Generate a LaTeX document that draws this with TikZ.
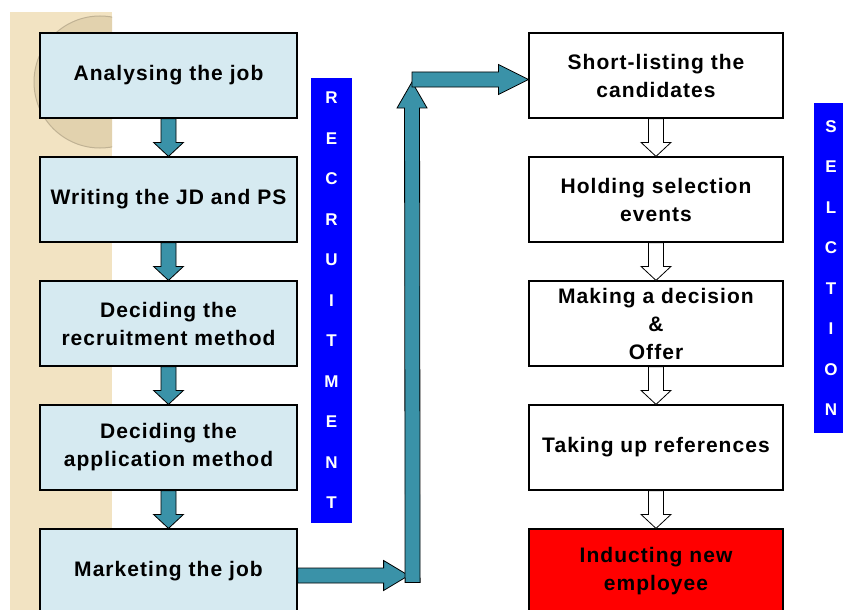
\documentclass[tikz,border=0pt]{standalone}
\usepackage{fontspec}
\setmainfont{Liberation Sans}
\newfontfamily\stepfont{Liberation Sans}[LetterSpace=5]
\usetikzlibrary{positioning,calc}

\definecolor{jobblue}{RGB}{214,234,241}
\definecolor{arrowteal}{RGB}{58,146,168}
\definecolor{stripsand}{RGB}{242,227,194}
\definecolor{circlesand}{RGB}{226,210,174}

\newcommand{\blockarrow}[4][]{%
  \coordinate (tipbase) at ($(#4)!#2!(#3)$);
  \draw[#1] ($(#3)!7.5pt!90:(#4)$) -- ($(tipbase)!7.5pt!-90:(#3)$) -- ($(tipbase)!15pt!-90:(#3)$)
    -- (#4) -- ($(tipbase)!15pt!90:(#3)$) -- ($(tipbase)!7.5pt!90:(#3)$) -- ($(#3)!7.5pt!-90:(#4)$) -- cycle;}

\begin{document}
\begin{tikzpicture}[x=1pt,y=-1pt,node distance=124pt,on grid,
    jobstep/.style={draw,line width=1.2pt,fill=jobblue,minimum width=257pt,minimum height=85pt,
      align=center,font=\stepfont\bfseries\fontsize{21}{28}\selectfont},
    selstep/.style={jobstep,fill=white,minimum width=254pt},
    banner/.style={fill=blue,text=white,inner sep=0pt,align=center,
      font=\bfseries\fontsize{17}{40.5}\selectfont},
    tealarrow/.style={fill=arrowteal,draw=black,line width=0.8pt},
    openarrow/.style={fill=white,draw=black,line width=0.8pt}]
	\clip (0,0) rectangle (843,610);
	\fill[white] (0,0) rectangle (843,610);
	\fill[stripsand] (10,12) rectangle (112,610);
	\begin{scope}
		\clip (10,12) rectangle (112,610);
		\filldraw[fill=circlesand,draw=circlesand!85!black,line width=1pt] (100,82) circle (66);
	\end{scope}

	\node[jobstep] (a1) at (168.5,75.5) {Analysing the job};
	\node[jobstep] (a2) [below=of a1] {Writing the JD and PS};
	\node[jobstep] (a3) [below=of a2] {Deciding the\\recruitment method};
	\node[jobstep] (a4) [below=of a3] {Deciding the\\application method};
	\node[jobstep] (a5) [below=of a4] {Marketing the job};

	\node[selstep] (s1) at (656,75.5) {Short-listing the\\candidates};
	\node[selstep] (s2) [below=of s1] {Holding selection\\events};
	\node[selstep] (s3) [below=of s2] {Making a decision\\\&\\Offer};
	\node[selstep] (s4) [below=of s3] {Taking up references};
	\node[selstep,fill=red] (s5) [below=of s4] {Inducting new\\employee};

	\node[banner,minimum width=41pt,minimum height=445pt] (recruit) at (331.5,300.5)
		{R\\E\\C\\R\\U\\I\\T\\M\\E\\N\\T};
	\node[banner,minimum width=34pt,minimum height=330pt] (select) at (831,268)
		{S\\E\\L\\C\\T\\I\\O\\N};

	\foreach \a/\b in {a1/a2,a2/a3,a3/a4,a4/a5}
		\blockarrow[tealarrow]{14pt}{\a.south}{\b.north};
	\foreach \a/\b in {s1/s2,s2/s3,s3/s4,s4/s5}
		\blockarrow[openarrow]{14pt}{\a.south}{\b.north};

	\coordinate (mkout) at ([yshift=-4pt]a5.east);
	\coordinate (turnlow) at ($(mkout)+(111,0)$);
	\coordinate (risebase) at ($(turnlow)+(4,7)$);
	\coordinate (risetop) at (412,82);
	\coordinate (turnhigh) at (412,79.5);
	\coordinate (slin) at ([yshift=-4pt]s1.west);
	\blockarrow[tealarrow]{25pt}{mkout}{turnlow};
	\blockarrow[tealarrow]{26pt}{risebase}{risetop};
	\blockarrow[tealarrow]{30pt}{turnhigh}{slin};
\end{tikzpicture}
\end{document}
